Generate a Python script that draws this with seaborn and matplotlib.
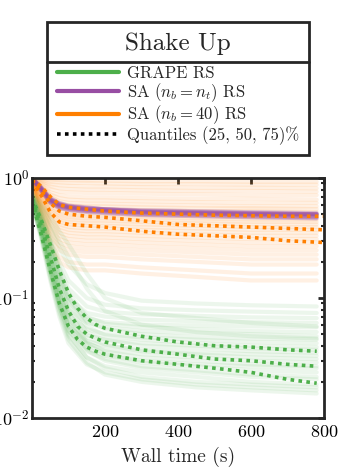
import numpy as np
import pandas as pd
import seaborn as sns
import matplotlib.pyplot as plt
from matplotlib.lines import Line2D
from matplotlib.ticker import FixedLocator, FixedFormatter, NullFormatter

sns.set_style('white')
plt.rcParams['font.family'] = ['cmr10', 'DejaVu Serif']
plt.rcParams['mathtext.fontset'] = 'cm'
plt.rcParams['axes.formatter.use_mathtext'] = True
plt.rcParams['axes.unicode_minus'] = False

# time grid of the individual runs (s)
t_runs = [0, 25, 50, 75, 100, 150, 200, 300, 450, 600, 780]

grape_runs = [
    [0.72, 0.55, 0.38, 0.26, 0.19, 0.13, 0.11, 0.095, 0.09, 0.087, 0.085],
    [0.70, 0.50, 0.32, 0.20, 0.14, 0.10, 0.088, 0.082, 0.079, 0.077, 0.075],
    [0.68, 0.47, 0.30, 0.18, 0.12, 0.085, 0.077, 0.073, 0.071, 0.069, 0.068],
    [0.74, 0.52, 0.29, 0.16, 0.10, 0.075, 0.070, 0.066, 0.064, 0.063, 0.062],
    [0.66, 0.42, 0.25, 0.14, 0.090, 0.068, 0.063, 0.060, 0.059, 0.058, 0.057],
    [0.70, 0.48, 0.30, 0.17, 0.11, 0.070, 0.061, 0.057, 0.055, 0.053, 0.052],
    [0.63, 0.40, 0.22, 0.12, 0.080, 0.062, 0.057, 0.053, 0.051, 0.050, 0.048],
    [0.69, 0.45, 0.26, 0.15, 0.10, 0.064, 0.055, 0.050, 0.047, 0.046, 0.045],
    [0.65, 0.38, 0.20, 0.11, 0.072, 0.055, 0.050, 0.047, 0.045, 0.043, 0.042],
    [0.71, 0.46, 0.27, 0.15, 0.095, 0.058, 0.049, 0.045, 0.042, 0.040, 0.039],
    [0.62, 0.36, 0.19, 0.10, 0.066, 0.049, 0.045, 0.042, 0.040, 0.038, 0.037],
    [0.67, 0.42, 0.24, 0.13, 0.082, 0.052, 0.045, 0.040, 0.038, 0.036, 0.035],
    [0.60, 0.34, 0.17, 0.090, 0.058, 0.044, 0.040, 0.037, 0.035, 0.034, 0.033],
    [0.68, 0.43, 0.24, 0.12, 0.075, 0.047, 0.041, 0.036, 0.034, 0.032, 0.031],
    [0.64, 0.37, 0.18, 0.095, 0.060, 0.042, 0.037, 0.034, 0.032, 0.030, 0.029],
    [0.66, 0.39, 0.21, 0.11, 0.068, 0.043, 0.036, 0.032, 0.030, 0.028, 0.027],
    [0.61, 0.33, 0.16, 0.085, 0.053, 0.038, 0.033, 0.030, 0.028, 0.027, 0.026],
    [0.70, 0.44, 0.22, 0.11, 0.066, 0.041, 0.034, 0.029, 0.027, 0.025, 0.024],
    [0.63, 0.35, 0.17, 0.088, 0.054, 0.036, 0.031, 0.027, 0.025, 0.023, 0.022],
    [0.67, 0.40, 0.19, 0.095, 0.058, 0.037, 0.030, 0.026, 0.024, 0.022, 0.021],
    [0.62, 0.33, 0.15, 0.078, 0.048, 0.032, 0.027, 0.024, 0.022, 0.020, 0.019],
    [0.65, 0.36, 0.17, 0.085, 0.050, 0.032, 0.026, 0.022, 0.020, 0.019, 0.018],
    [0.60, 0.31, 0.14, 0.070, 0.042, 0.028, 0.024, 0.021, 0.019, 0.018, 0.017],
    [0.64, 0.34, 0.15, 0.075, 0.045, 0.029, 0.023, 0.020, 0.018, 0.017, 0.016],
    [0.75, 0.62, 0.48, 0.36, 0.28, 0.16, 0.10, 0.075, 0.068, 0.062, 0.058],
    [0.73, 0.58, 0.42, 0.30, 0.22, 0.12, 0.078, 0.060, 0.052, 0.048, 0.046],
]

sa_nt_runs = [
    [1.00, 0.82, 0.66, 0.60, 0.57, 0.55, 0.54, 0.52, 0.51, 0.50, 0.49],
    [0.99, 0.80, 0.64, 0.58, 0.56, 0.54, 0.53, 0.51, 0.50, 0.49, 0.48],
    [1.00, 0.84, 0.68, 0.62, 0.59, 0.57, 0.55, 0.54, 0.53, 0.52, 0.51],
    [0.98, 0.79, 0.63, 0.57, 0.55, 0.53, 0.52, 0.50, 0.49, 0.48, 0.47],
    [0.99, 0.81, 0.65, 0.59, 0.57, 0.55, 0.54, 0.52, 0.51, 0.50, 0.50],
    [1.00, 0.83, 0.67, 0.61, 0.58, 0.56, 0.55, 0.53, 0.52, 0.51, 0.50],
    [0.98, 0.78, 0.62, 0.56, 0.54, 0.52, 0.51, 0.49, 0.48, 0.47, 0.46],
    [0.99, 0.82, 0.66, 0.60, 0.58, 0.56, 0.55, 0.53, 0.52, 0.51, 0.50],
]

sa_40_runs = [
    [1.00, 0.98, 0.97, 0.96, 0.96, 0.95, 0.95, 0.94, 0.94, 0.93, 0.93],
    [1.00, 0.96, 0.93, 0.92, 0.91, 0.91, 0.90, 0.89, 0.89, 0.88, 0.88],
    [0.99, 0.94, 0.89, 0.87, 0.86, 0.85, 0.85, 0.84, 0.83, 0.83, 0.82],
    [0.99, 0.92, 0.85, 0.82, 0.81, 0.80, 0.80, 0.79, 0.78, 0.78, 0.77],
    [0.98, 0.90, 0.81, 0.77, 0.76, 0.75, 0.75, 0.74, 0.73, 0.72, 0.72],
    [0.98, 0.87, 0.76, 0.72, 0.70, 0.69, 0.69, 0.68, 0.67, 0.67, 0.66],
    [0.97, 0.85, 0.73, 0.68, 0.66, 0.65, 0.65, 0.64, 0.63, 0.62, 0.62],
    [0.97, 0.83, 0.70, 0.64, 0.62, 0.61, 0.61, 0.60, 0.59, 0.58, 0.58],
    [0.96, 0.80, 0.67, 0.61, 0.59, 0.58, 0.58, 0.57, 0.56, 0.56, 0.55],
    [0.96, 0.78, 0.64, 0.58, 0.56, 0.55, 0.55, 0.54, 0.53, 0.53, 0.52],
    [0.95, 0.76, 0.62, 0.56, 0.54, 0.53, 0.53, 0.52, 0.51, 0.50, 0.50],
    [0.95, 0.74, 0.59, 0.53, 0.51, 0.50, 0.50, 0.49, 0.48, 0.47, 0.47],
    [0.94, 0.72, 0.57, 0.51, 0.49, 0.48, 0.48, 0.47, 0.46, 0.45, 0.45],
    [0.94, 0.70, 0.55, 0.49, 0.47, 0.46, 0.46, 0.45, 0.44, 0.43, 0.43],
    [0.93, 0.69, 0.53, 0.47, 0.45, 0.44, 0.44, 0.43, 0.42, 0.41, 0.41],
    [0.93, 0.67, 0.51, 0.45, 0.43, 0.42, 0.42, 0.41, 0.40, 0.39, 0.39],
    [0.92, 0.65, 0.49, 0.43, 0.41, 0.40, 0.40, 0.39, 0.38, 0.37, 0.37],
    [0.92, 0.63, 0.47, 0.41, 0.39, 0.38, 0.38, 0.37, 0.36, 0.35, 0.35],
    [0.91, 0.61, 0.45, 0.39, 0.37, 0.36, 0.36, 0.35, 0.34, 0.33, 0.33],
    [0.91, 0.60, 0.43, 0.37, 0.35, 0.34, 0.34, 0.33, 0.32, 0.31, 0.31],
    [0.90, 0.58, 0.41, 0.35, 0.33, 0.32, 0.32, 0.31, 0.30, 0.29, 0.29],
    [0.90, 0.56, 0.39, 0.33, 0.31, 0.30, 0.30, 0.29, 0.28, 0.27, 0.27],
    [0.89, 0.54, 0.37, 0.31, 0.29, 0.28, 0.28, 0.27, 0.26, 0.25, 0.25],
    [0.89, 0.52, 0.35, 0.29, 0.27, 0.26, 0.26, 0.25, 0.24, 0.23, 0.23],
    [0.88, 0.50, 0.33, 0.27, 0.25, 0.24, 0.24, 0.23, 0.22, 0.21, 0.21],
    [0.88, 0.48, 0.31, 0.25, 0.23, 0.22, 0.22, 0.21, 0.20, 0.19, 0.19],
    [0.87, 0.45, 0.28, 0.22, 0.20, 0.19, 0.19, 0.18, 0.17, 0.16, 0.16],
    [0.87, 0.43, 0.26, 0.20, 0.18, 0.17, 0.17, 0.16, 0.15, 0.14, 0.14],
]

# quantile curves (25, 50, 75 %)
t_q_grape = [0, 25, 50, 75, 100, 125, 150, 175, 200, 300, 400, 500, 600, 700, 780]
grape_q25 = [0.64, 0.34, 0.17, 0.09, 0.058, 0.045, 0.039, 0.036, 0.034, 0.030, 0.028, 0.026, 0.024, 0.021, 0.0195]
grape_q50 = [0.66, 0.40, 0.22, 0.12, 0.078, 0.058, 0.050, 0.046, 0.043, 0.037, 0.034, 0.031, 0.030, 0.028, 0.027]
grape_q75 = [0.68, 0.45, 0.28, 0.17, 0.11, 0.082, 0.068, 0.060, 0.056, 0.048, 0.043, 0.040, 0.039, 0.037, 0.036]

t_q_sa40 = [0, 25, 50, 75, 100, 150, 200, 300, 400, 500, 600, 700, 800]
sa40_q25 = [0.95, 0.72, 0.52, 0.43, 0.41, 0.40, 0.39, 0.36, 0.34, 0.33, 0.32, 0.30, 0.29]
sa40_q50 = [0.97, 0.78, 0.62, 0.53, 0.50, 0.48, 0.47, 0.44, 0.41, 0.40, 0.39, 0.38, 0.37]
sa40_q75 = [0.99, 0.85, 0.70, 0.60, 0.57, 0.55, 0.53, 0.51, 0.50, 0.49, 0.485, 0.48, 0.48]

pal = sns.color_palette('Set1')
c_green, c_purple, c_orange = pal[2], pal[3], pal[4]
ink = '#262626'


def runs_frame(runs):
    rows = []
    for i, r in enumerate(runs):
        for t, v in zip(t_runs, r):
            rows.append((i, t, v))
    return pd.DataFrame(rows, columns=['run', 't', 'v'])


fig = plt.figure(figsize=(3.6, 4.69), dpi=100)
ax = fig.add_axes([32 / 360, 1 - 418 / 469, 292 / 360, 240 / 469])

sns.lineplot(data=runs_frame(sa_40_runs), x='t', y='v', units='run', estimator=None,
             color=c_orange, alpha=0.11, lw=3, ax=ax)
sns.lineplot(data=runs_frame(sa_nt_runs), x='t', y='v', units='run', estimator=None,
             color=c_purple, alpha=0.35, lw=2.8, ax=ax)
sns.lineplot(data=runs_frame(grape_runs), x='t', y='v', units='run', estimator=None,
             color=c_green, alpha=0.1, lw=3, ax=ax)

dot = dict(lw=2.6, dashes=(1, 1.2))
for q in (grape_q25, grape_q50, grape_q75):
    sns.lineplot(x=t_q_grape, y=q, color=c_green, ax=ax, **dot)
for q in (sa40_q25, sa40_q50, sa40_q75):
    sns.lineplot(x=t_q_sa40, y=q, color=c_orange, ax=ax, **dot)

ax.set_yscale('log')
ax.set_xlim(0, 800)
ax.set_ylim(0.01, 1)
ax.xaxis.set_major_locator(FixedLocator([200, 400, 600, 800]))
ax.yaxis.set_major_locator(FixedLocator([0.01, 0.1, 1]))
ax.yaxis.set_major_formatter(FixedFormatter([r'$10^{-2}$', r'$10^{-1}$', r'$10^{0}$']))
ax.yaxis.set_minor_formatter(NullFormatter())
ax.set_xlabel('Wall time (s)', fontsize=14, labelpad=5)
ax.set_ylabel('')
ax.tick_params(axis='both', which='major', direction='in', top=True, right=True,
               length=4, width=2, color=ink, labelsize=13, pad=4.5, labelcolor='black')
ax.tick_params(axis='y', which='major', pad=2)
ax.tick_params(axis='y', which='minor', direction='in', left=True, right=True,
               length=2.5, width=1.5, color=ink)
for s in ax.spines.values():
    s.set_linewidth(2)
    s.set_color(ink)

handles = [
    Line2D([], [], color=c_green, lw=3),
    Line2D([], [], color=c_purple, lw=3),
    Line2D([], [], color=c_orange, lw=3),
    Line2D([], [], color='black', lw=2.6, dashes=(1, 1.2)),
]
labels = ['GRAPE RS', r'SA ($n_b = n_t$) RS', r'SA ($n_b = 40$) RS', 'Quantiles (25, 50, 75)%']
leg = fig.legend(handles, labels, loc='upper left', bbox_to_anchor=(47 / 360, 1 - 22 / 469),
                 title='Shake Up', title_fontsize=18, fontsize=12, frameon=True, fancybox=False,
                 handlelength=3.7, handletextpad=0.5, labelspacing=0.0, borderpad=0.6,
                 borderaxespad=0, edgecolor=ink)
leg._legend_box.sep = 8
leg.get_frame().set_linewidth(2)
leg.get_frame().set_alpha(None)

fig.canvas.draw()
fb = leg.get_frame().get_window_extent()
tb = leg.get_title().get_window_extent()
yline = (tb.y0 - 7) / fig.bbox.height
fig.add_artist(Line2D([fb.x0 / fig.bbox.width, fb.x1 / fig.bbox.width], [yline, yline],
                     color=ink, lw=2, transform=fig.transFigure, zorder=10))

fig.savefig('out.png', dpi=100)
